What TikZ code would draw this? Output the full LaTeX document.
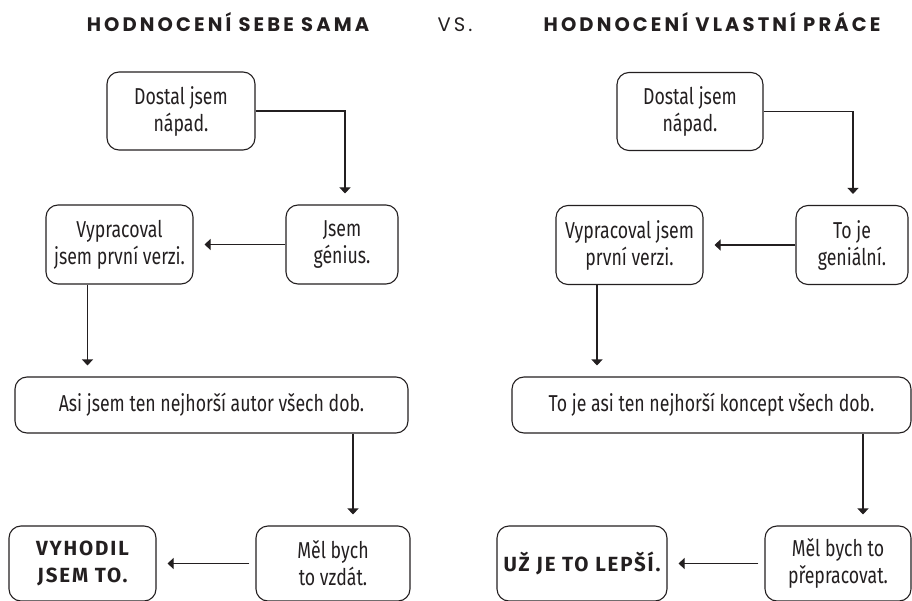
\documentclass[tikz,border=0pt]{standalone}
\usepackage{fontspec}
\setmainfont{Fira Sans}
\newfontfamily\bodyfont{Fira Sans}[FakeStretch=0.77]
\newfontfamily\headfont{Poppins}[LetterSpace=16]
\newfontfamily\endfont{Fira Sans}[LetterSpace=9]
\usetikzlibrary{arrows.meta}
\definecolor{ink}{HTML}{231F20}
\tikzset{
  box/.style={draw=ink, line width=1.1pt, rounded corners=12pt, align=center,
    inner sep=0pt, text=ink, font=\bodyfont\fontsize{23}{27}\selectfont},
  finalbox/.style={box, font=\endfont\bfseries\fontsize{20.5}{27}\selectfont},
  heading/.style={anchor=base, text=ink, inner sep=0pt, font=\headfont\bfseries\fontsize{19.5}{20}\selectfont},
  vslabel/.style={anchor=base, text=ink, inner sep=0pt, font=\headfont\fontsize{19.5}{20}\selectfont},
  arr/.style={draw=ink, line width=1.1pt, -{Triangle[width=11pt,length=6pt]}, shorten >=11pt}
}
\begin{document}
\begin{tikzpicture}[x=1pt,y=-1pt]
\useasboundingbox (0,0) rectangle (912,601);

% headings
\node[heading] (t1) at (228,32) {HODNOCENÍ SEBE SAMA};
\node[vslabel] (vs) at (455,32) {VS.};
\node[heading] (t2) at (712,32) {HODNOCENÍ VLASTNÍ PRÁCE};

% left column: self-assessment
\node[box, minimum width=148pt, minimum height=78pt] (d1) at (181,111) {Dostal jsem\\nápad.};
\node[box, minimum width=112pt, minimum height=79pt] (g1) at (342,244.5) {Jsem\\génius.};
\node[box, minimum width=147pt, minimum height=79pt] (v1) at (119.5,244.5) {Vypracoval\\jsem první verzi.};
\node[box, minimum width=393pt, minimum height=56pt] (a1) at (211.5,405) {Asi jsem ten nejhorší autor všech dob.};
\node[box, minimum width=154pt, minimum height=75pt] (m1) at (333,563.5) {Měl bych\\to vzdát.};
\node[finalbox, minimum width=147pt, minimum height=75pt] (x1) at (82.5,563.5) {VYHODIL\\JSEM TO.};

% right column: assessment of the work
\node[box, minimum width=146pt, minimum height=78pt] (d2) at (690,111.5) {Dostal jsem\\nápad.};
\node[box, minimum width=112pt, minimum height=79pt] (g2) at (852,245) {To je\\geniální.};
\node[box, minimum width=147pt, minimum height=79pt] (v2) at (629.5,245) {Vypracoval jsem\\první verzi.};
\node[box, minimum width=399pt, minimum height=56pt] (a2) at (711.5,405) {To je asi ten nejhorší koncept všech dob.};
\node[box, minimum width=146pt, minimum height=75pt] (m2) at (838,563.5) {Měl bych to\\přepracovat.};
\node[finalbox, minimum width=170pt, minimum height=75pt] (x2) at (582,563.5) {UŽ JE TO LEPŠÍ.};

% connectors, left
\draw[arr] (d1.east) -| ([xshift=3pt]g1.north);
\draw[arr] (g1.west) -- (v1.east);
\coordinate (p1) at ([xshift=-32pt]v1.south);
\draw[arr] (p1) -- (p1 |- a1.north);
\coordinate (q1) at ([xshift=20pt]m1.north);
\draw[arr] (q1 |- a1.south) -- (q1);
\draw[arr, shorten <=6pt] (m1.west) -- (x1.east);

% connectors, right
\draw[arr] (d2.east) -| ([xshift=1pt]g2.north);
\draw[arr] (g2.west) -- (v2.east);
\coordinate (p2) at ([xshift=-32.5pt]v2.south);
\draw[arr] (p2) -- (p2 |- a2.north);
\coordinate (q2) at ([xshift=25pt]m2.north);
\draw[arr] (q2 |- a2.south) -- (q2);
\draw[arr, shorten <=6pt] (m2.west) -- (x2.east);
\end{tikzpicture}
\end{document}
